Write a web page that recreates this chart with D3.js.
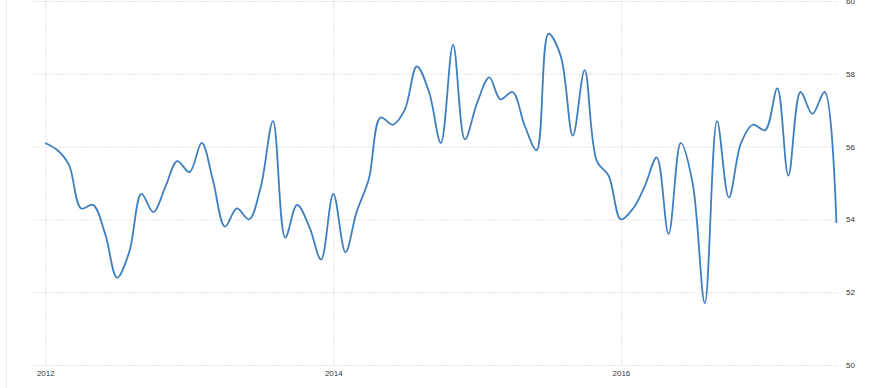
<!DOCTYPE html>
<html>
<head>
<meta charset="utf-8">
<script src="https://cdn.jsdelivr.net/npm/d3@7/dist/d3.min.js"></script>
<style>
  html, body { margin: 0; padding: 0; background: #fff; }
  svg { display: block; }
</style>
</head>
<body>
<svg id="chart" width="871" height="388"></svg>
<script>
// Monthly values, Jan 2012 .. Jul 2017
const startYear = 2012;
const values = [
  56.1, 55.9, 55.5, 54.3, 54.4, 53.6, 52.4, 53.1, 54.7, 54.2, 54.9, 55.6,
  55.3, 56.1, 55.1, 53.8, 54.3, 54.0, 54.9, 56.7, 53.5, 54.4, 53.8, 52.9,
  54.7, 53.1, 54.2, 55.1, 56.8, 56.6, 57.0, 58.2, 57.5, 56.1, 58.8, 56.2,
  57.2, 57.9, 57.3, 57.5, 56.6, 55.9, 59.1, 58.5, 56.3, 58.1, 55.6, 55.2,
  54.0, 54.3, 54.9, 55.7, 53.6, 56.1, 55.0, 51.7, 56.7, 54.6, 56.1, 56.6,
  56.45, 57.6, 55.2, 57.5, 56.9, 57.5, 53.9
];
const xTickYears = [2012, 2014, 2016];
const yTicks = [50, 52, 54, 56, 58, 60];

const data = values.map((v, i) => ({ date: new Date(startYear, i, 1), value: v }));

const svg = d3.select("#chart");

const x = d3.scaleTime()
  .domain([new Date(2012, 0, 1), new Date(2014, 0, 1)])
  .range([45.3, 333.3]);
const y = d3.scaleLinear().domain([50, 60]).range([365, 1]);

// faint left border
svg.append("line")
  .attr("x1", 6.5).attr("x2", 6.5).attr("y1", 0).attr("y2", 388)
  .attr("stroke", "#eeeeee").attr("stroke-width", 1);

// horizontal grid + right labels
const yAxis = d3.axisRight(y)
  .tickValues(yTicks)
  .tickSize(-(838 - 33))
  .tickPadding(8)
  .tickFormat(d3.format("d"));
const gy = svg.append("g").attr("transform", "translate(838,0)").call(yAxis);
gy.select(".domain").remove();
gy.selectAll(".tick line")
  .attr("stroke", "#e2e2e2").attr("stroke-dasharray", "2,1");
gy.selectAll(".tick text")
  .attr("x", 8)
  .attr("fill", "#333")
  .style("font-family", "'Liberation Sans', Arial, sans-serif")
  .style("font-size", "8px");

// vertical grid + bottom labels
const xAxis = d3.axisBottom(x)
  .tickValues(xTickYears.map(yr => new Date(yr, 0, 1)))
  .tickSize(-365)
  .tickPadding(5)
  .tickFormat(d3.timeFormat("%Y"));
const gx = svg.append("g").attr("transform", "translate(0,365)").call(xAxis);
gx.select(".domain").remove();
gx.selectAll(".tick line")
  .attr("stroke", "#e2e2e2").attr("stroke-dasharray", "2,1");
gx.selectAll(".tick text")
  .attr("fill", "#333")
  .style("font-family", "'Liberation Sans', Arial, sans-serif")
  .style("font-size", "8px");

// line
const line = d3.line()
  .x(d => x(d.date))
  .y(d => y(d.value))
  .curve(d3.curveCatmullRom.alpha(0.5));

svg.append("path")
  .datum(data)
  .attr("fill", "none")
  .attr("stroke", "#3f7fbf")
  .attr("stroke-width", 1.8)
  .attr("stroke-linejoin", "round")
  .attr("d", line);
</script>
</body>
</html>
